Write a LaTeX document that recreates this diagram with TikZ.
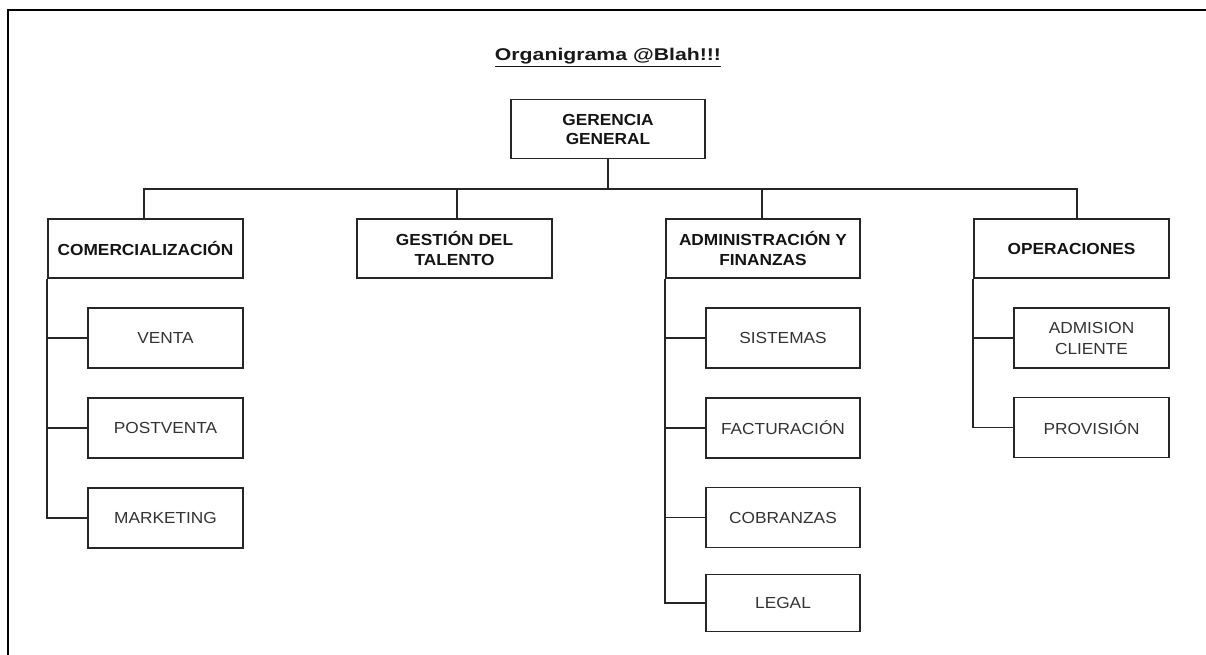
\documentclass[tikz,border=0pt]{standalone}
\usepackage{fontspec}
\setmainfont{Liberation Sans}[FakeStretch=1.08]
\newfontfamily\titlefont{Liberation Sans}[FakeStretch=1.25]
\begin{document}
\begin{tikzpicture}[x=1pt,y=-1pt,
  box/.style={draw=black!85, line width=1.7pt, fill=white, inner sep=2pt,
    align=center, minimum height=59pt},
  head/.style={box, minimum width=195pt, text=black!92,
    font=\bfseries\fontsize{16}{20.5}\selectfont},
  unit/.style={box, minimum width=155pt, minimum height=60pt, text=black!80,
    font=\fontsize{16}{21}\selectfont},
  link/.style={draw=black!85, line width=1.6pt}]
\useasboundingbox (0,0) rectangle (1206,655);
% page frame
\draw[line width=2.2pt] (8,655) -- (8,10) -- (1206,10);

% title
\node[anchor=base, font=\titlefont\bfseries\fontsize{17}{20}\selectfont, text=black!90]
  (title) at (608,61) {\underline{Organigrama @Blah!!!}};

% top level
\node[head, minimum width=194pt, font=\bfseries\fontsize{16}{19}\selectfont]
  (gg) at (608,129) {GERENCIA\\GENERAL};

% departments
\node[head] (com) at (145.5,248.5) {COMERCIALIZACIÓN};
\node[head] (tal) at (454.5,248.5) {GESTIÓN DEL\\TALENTO};
\node[head, minimum width=194pt] (adm) at (763,248.5) {ADMINISTRACIÓN Y\\FINANZAS};
\node[head] (ope) at (1071.5,248.5) {OPERACIONES};

% units
\node[unit] (ven) at (165.5,338) {VENTA};
\node[unit] (pos) at (165.5,428) {POSTVENTA};
\node[unit] (mar) at (165.5,518) {MARKETING};

\node[unit, minimum width=154pt] (sis) at (783,338) {SISTEMAS};
\node[unit, minimum width=154pt] (fac) at (783,428) {FACTURACIÓN};
\node[unit, minimum width=154pt] (cob) at (783,517.5) {COBRANZAS};
\node[unit, minimum width=154pt, minimum height=57pt] (leg) at (783,603) {LEGAL};

\node[unit] (adi) at (1091.5,338) {ADMISION\\CLIENTE};
\node[unit] (pro) at (1091.5,427.5) {PROVISIÓN};

% connectors: top bar
\coordinate (hub) at (606,189);
\draw[link] (gg.south) -- (gg.south |- hub);
\draw[link] ([xshift=-1.5pt]com.north) |- (hub) -| ([xshift=5.5pt]ope.north);
\draw[link] ([xshift=2.5pt]tal.north) -- ([xshift=2.5pt]tal.north |- hub);
\draw[link] ([xshift=-1pt]adm.north) -- ([xshift=-1pt]adm.north |- hub);

% connectors: unit spines
\draw[link] (com.south west) |- (mar.west);
\draw[link] (com.south west |- ven.west) -- (ven.west);
\draw[link] (com.south west |- pos.west) -- (pos.west);

\draw[link] (adm.south west) |- (leg.west);
\draw[link] (adm.south west |- sis.west) -- (sis.west);
\draw[link] (adm.south west |- fac.west) -- (fac.west);
\draw[link] (adm.south west |- cob.west) -- (cob.west);

\draw[link] (ope.south west) |- (pro.west);
\draw[link] (ope.south west |- adi.west) -- (adi.west);
\end{tikzpicture}
\end{document}
